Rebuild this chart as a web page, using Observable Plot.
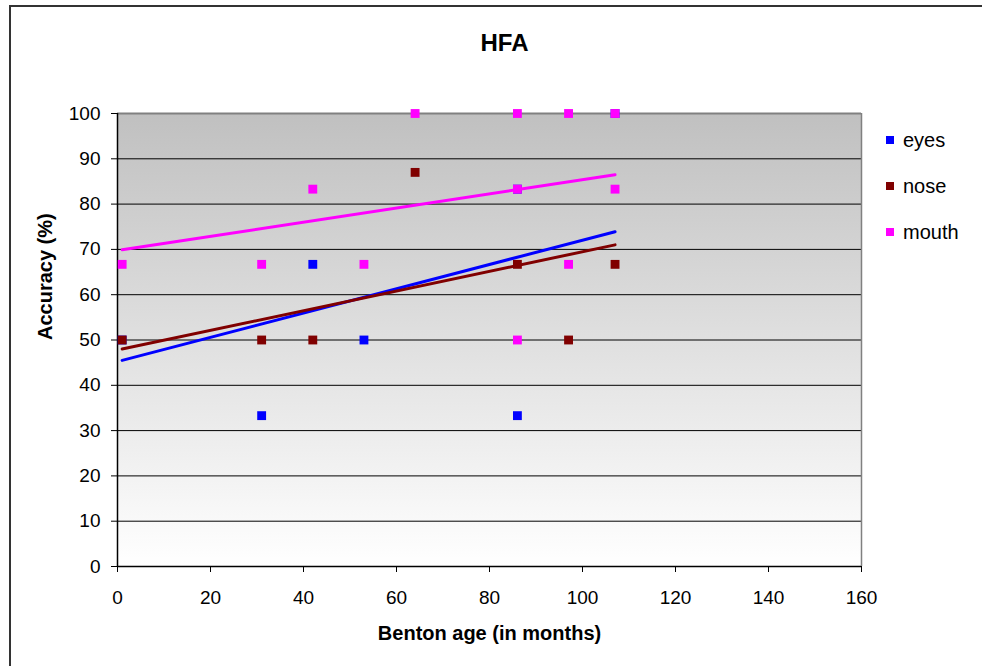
<!DOCTYPE html>
<html>
<head>
<meta charset="utf-8">
<script src="https://cdn.jsdelivr.net/npm/d3@7"></script>
<script src="https://cdn.jsdelivr.net/npm/@observablehq/plot@0.6"></script>
<style>
  body { margin: 0; background: #fff; font-family: Arial, "Liberation Sans", sans-serif; }
  #wrap { position: relative; width: 982px; height: 666px; overflow: hidden; }
  #border { position: absolute; left: 9px; top: 5px; width: 1100px; height: 800px; border-left: 2px solid #333; border-top: 2px solid #333; box-sizing: border-box; }
  #chart { position: absolute; left: 0; top: 0; }
  .leg { position: absolute; left: 886px; font-size: 20px; color: #000; line-height: 20px; display: flex; align-items: center; }
  .sw { display: inline-block; width: 8px; height: 8px; margin-right: 9px; }
</style>
</head>
<body>
<div id="wrap">
  <div id="border"></div>
  <div id="chart"></div>
</div>
<script>
// ---- data ----
const seriesNames = ["eyes", "nose", "mouth"];
const seriesColors = ["#0000FF", "#800000", "#FF00FF"];

const eyesAge = [1, 31, 42, 53, 86, 86, 107];
const eyesAcc = [50, 33.3, 66.7, 50, 33.3, 83.3, 100];

const noseAge = [1, 31, 42, 64, 86, 97, 107];
const noseAcc = [50, 50, 50, 87, 66.7, 50, 66.7];

const mouthAge = [1, 31, 42, 53, 64, 86, 86, 86, 97, 97, 107, 107];
const mouthAcc = [66.7, 66.7, 83.3, 66.7, 100, 100, 83.3, 50, 100, 66.7, 100, 83.3];

// linear trendlines, at ages 1 and 107
const trendAge = [1, 107];
const eyesTrend = [45.5, 73.9];
const noseTrend = [48.0, 71.0];
const mouthTrend = [69.9, 86.5];

const xTicks = [0, 20, 40, 60, 80, 100, 120, 140, 160];
const yTicks = [0, 10, 20, 30, 40, 50, 60, 70, 80, 90, 100];

const chartTitle = "HFA";
const xTitle = "Benton age (in months)";
const yTitle = "Accuracy (%)";

// ---- build tables ----
const points = [];
[[eyesAge, eyesAcc], [noseAge, noseAcc], [mouthAge, mouthAcc]].forEach(([xs, ys], i) => {
  xs.forEach((x, j) => points.push({series: seriesNames[i], age: x, acc: ys[j]}));
});
const trends = [];
[eyesTrend, noseTrend, mouthTrend].forEach((ys, i) => {
  trendAge.forEach((x, j) => trends.push({series: seriesNames[i], age: x, acc: ys[j]}));
});

const bg = (index, scales, values, dims) => {
  const ns = "http://www.w3.org/2000/svg";
  const g = document.createElementNS(ns, "g");
  const defs = document.createElementNS(ns, "defs");
  defs.innerHTML = '<linearGradient id="bgGrad" x1="0" y1="0" x2="0" y2="1">' +
    '<stop offset="0" stop-color="#c0c0c0"/><stop offset="1" stop-color="#ffffff"/></linearGradient>';
  g.appendChild(defs);
  const r = document.createElementNS(ns, "rect");
  r.setAttribute("x", dims.marginLeft);
  r.setAttribute("y", dims.marginTop);
  r.setAttribute("width", dims.width - dims.marginLeft - dims.marginRight);
  r.setAttribute("height", dims.height - dims.marginTop - dims.marginBottom);
  r.setAttribute("fill", "url(#bgGrad)");
  g.appendChild(r);
  return g;
};

const chart = Plot.plot({
  width: 982,
  height: 666,
  marginLeft: 117,
  marginRight: 121,
  marginTop: 113,
  marginBottom: 100,
  style: {fontFamily: "Arial, 'Liberation Sans', sans-serif", fontSize: "19px", background: "transparent", overflow: "visible"},
  x: {domain: [0, 160], ticks: xTicks, tickSize: 6, tickPadding: 18, label: null},
  y: {domain: [0, 100], ticks: yTicks, tickSize: 6, tickPadding: 11, label: null},
  color: {domain: seriesNames, range: seriesColors},
  marks: [
    bg,
    Plot.ruleY(yTicks.filter(d => d > 0 && d < 100), {stroke: "#000", strokeWidth: 1}),
    Plot.ruleY([100], {stroke: "#808080", strokeWidth: 2}),
    Plot.ruleX([160], {stroke: "#808080", strokeWidth: 1.5}),
    Plot.ruleX([0], {stroke: "#000", strokeWidth: 1.5}),
    Plot.ruleY([0], {stroke: "#000", strokeWidth: 1.5}),
    Plot.axisX({ticks: xTicks, tickSize: 6, tickPadding: 18, stroke: "#000", fill: "#000", fontSize: 19, label: null}),
    Plot.axisY({ticks: yTicks, tickSize: 6, tickPadding: 11, stroke: "#000", fill: "#000", fontSize: 19, label: null}),
    Plot.dot(points, {x: "age", y: "acc", fill: "series", symbol: "square", r: 5, stroke: null}),
    Plot.line(trends, {x: "age", y: "acc", stroke: "series", z: "series", strokeWidth: 3}),
    Plot.text([chartTitle], {frameAnchor: "top", dx: 15, dy: -70, fontSize: 24, fontWeight: "bold", fill: "#000", lineAnchor: "middle"}),
    Plot.text([xTitle], {frameAnchor: "bottom", dy: 67, fontSize: 20, fontWeight: "bold", fill: "#000", lineAnchor: "middle"}),
    Plot.text([yTitle], {frameAnchor: "left", dx: -72, rotate: -90, fontSize: 20, fontWeight: "bold", fill: "#000", lineAnchor: "middle"})
  ]
});
document.getElementById("chart").appendChild(chart);

// legend
const wrap = document.getElementById("wrap");
const legY = [140, 186, 232];
seriesNames.forEach((name, i) => {
  const d = document.createElement("div");
  d.className = "leg";
  d.style.top = (legY[i] - 10) + "px";
  const sw = document.createElement("span");
  sw.className = "sw";
  sw.style.background = seriesColors[i];
  d.appendChild(sw);
  d.appendChild(document.createTextNode(name));
  wrap.appendChild(d);
});
</script>
</body>
</html>
